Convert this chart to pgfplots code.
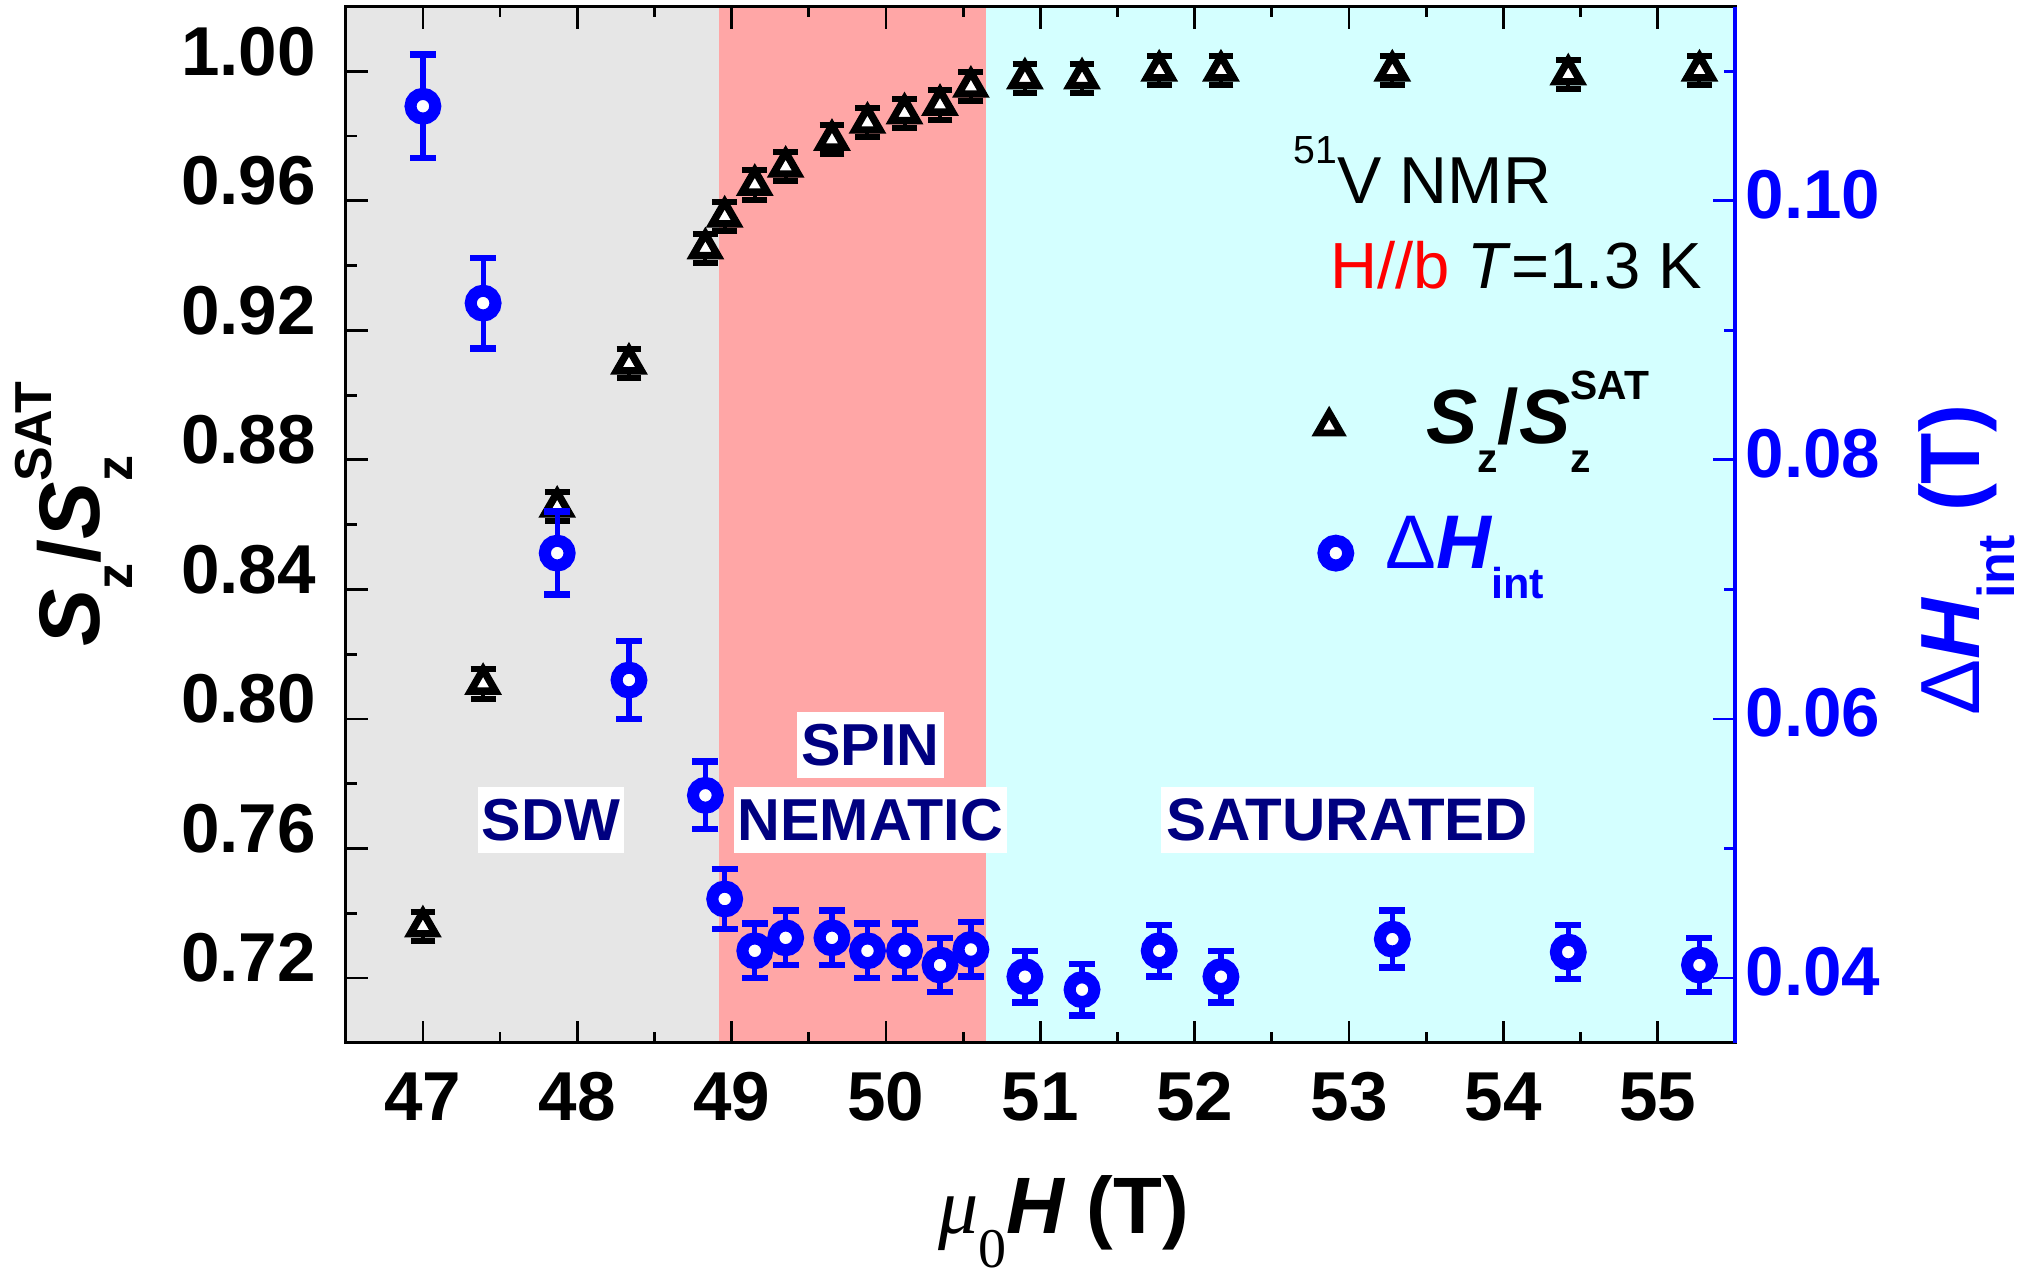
\documentclass[border=0pt]{standalone}
\usepackage{pgfplots}
\usepackage{pgfplotstable}
\pgfplotsset{compat=1.18}
\usepackage{fontspec}
\setmainfont{Liberation Sans}
\newfontfamily\seriffont{Liberation Serif}
\definecolor{bggray}{RGB}{230,230,230}
\definecolor{bgpink}{RGB}{255,166,166}
\definecolor{bgcyan}{RGB}{212,255,255}
\definecolor{navy}{RGB}{0,0,128}
\definecolor{pblue}{RGB}{0,0,255}
\newcommand{\fs}[1]{\fontsize{#1}{#1}\selectfont}

\pgfplotstableread{
x y e
47.00 0.7359 0.0045
47.39 0.8108 0.0045
47.87 0.8655 0.0045
48.335 0.9097 0.0045
48.83 0.9453 0.0045
48.955 0.9551 0.0045
49.15 0.9649 0.0045
49.35 0.9705 0.0045
49.65 0.9788 0.0045
49.88 0.9841 0.0045
50.12 0.9870 0.0045
50.35 0.9896 0.0045
50.55 0.9952 0.0045
50.90 0.9978 0.0045
51.27 0.9978 0.0045
51.77 1.0002 0.0045
52.17 1.0002 0.0045
53.28 1.0002 0.0045
54.42 0.9990 0.0045
55.27 1.0002 0.0045
}\tritab

\pgfplotstableread{
x y e
47.00 0.1073 0.0040
47.39 0.0921 0.0035
47.87 0.0728 0.0032
48.335 0.0630 0.0030
48.83 0.0541 0.0026
48.955 0.0461 0.0023
49.15 0.0421 0.0021
49.35 0.0431 0.0021
49.65 0.0431 0.0021
49.88 0.0421 0.0021
50.12 0.0421 0.0021
50.35 0.0410 0.0021
50.55 0.0422 0.0021
50.90 0.0401 0.0020
51.27 0.0391 0.0020
51.77 0.0421 0.0020
52.17 0.0401 0.0020
53.28 0.0430 0.0022
54.42 0.0420 0.0021
55.27 0.0410 0.0021
}\circtab

\begin{document}
\begin{tikzpicture}
\begin{axis}[
  at={(0,0)}, anchor=south west,
  scale only axis, width=347.3pt, height=259.05pt,
  xmin=46.5, xmax=55.5, ymin=0.70, ymax=1.02,
  axis on top,
  axis line style={line width=0.85pt, black},
  xtick={47,48,49,50,51,52,53,54,55},
  minor xtick={47.5,48.5,49.5,50.5,51.5,52.5,53.5,54.5},
  ytick={0.72,0.76,0.80,0.84,0.88,0.92,0.96,1.00},
  minor ytick={0.74,0.78,0.82,0.86,0.90,0.94,0.98},
  xtick pos=both, ytick pos=left,
  tick align=inside,
  major tick length=5.5pt, minor tick length=2.7pt,
  tick style={line width=0.7pt, black},
  /pgf/number format/assume math mode=true,
  tick label style={font=\fs{17.3pt}\bfseries},
  xticklabel style={inner sep=0pt, yshift=-7.25pt},
  yticklabel style={inner sep=0pt, xshift=-7.25pt, yshift=5pt, /pgf/number format/.cd, fixed, fixed zerofill, precision=2},
  xlabel={{\seriffont\itshape\fs{20pt}μ}\raisebox{-8.5pt}{\seriffont\fs{14pt}0}{\fs{20pt}\bfseries\itshape H}{\fs{20pt}\bfseries{} (T)}},
  xlabel style={at={(axis description cs:0.517,-0.1837)}, anchor=base, inner sep=0pt},
  ylabel={\fs{21.5pt}\bfseries\itshape S\raisebox{-8.25pt}{\fs{13pt}\upshape z}\upshape/\itshape S\makebox[0pt][l]{\raisebox{-8.25pt}{\fs{13pt}\upshape z}}\raisebox{12pt}{\fs{13pt}\upshape SAT}},
  ylabel style={at={(axis description cs:-0.1769,0.5102)}, anchor=base, inner sep=0pt},
  legend style={at={(axis cs:52.871,0.8904)}, anchor=west, xshift=-5pt, draw=none, fill=none, inner sep=0pt, outer sep=0pt, column sep=19.25pt, nodes={inner sep=0pt}},
  legend cell align=left,
  legend image code/.code={\begin{scope}[overlay]\draw[#1] plot coordinates {(0pt,0pt)};\end{scope}\pgfpathrectangle{\pgfpoint{-5pt}{-5pt}}{\pgfpoint{10pt}{10pt}}\pgfusepath{discard}},
]
\fill[bggray] (axis cs:46.5,0.70) rectangle (axis cs:48.92,1.02);
\fill[bgpink] (axis cs:48.92,0.70) rectangle (axis cs:50.646,1.02);
\fill[bgcyan] (axis cs:50.646,0.70) rectangle (axis cs:55.5,1.02);

\node[fill=white, text=navy, font=\fs{14.8pt}\bfseries, inner xsep=1pt, inner ysep=3pt] at (axis cs:47.829,0.76878) {SDW};
\node[fill=white, text=navy, font=\fs{14.8pt}\bfseries, inner xsep=1pt, inner ysep=3pt] at (axis cs:49.90,0.79188) {SPIN};
\node[fill=white, text=navy, font=\fs{14.8pt}\bfseries, inner xsep=1pt, inner ysep=3pt] at (axis cs:49.898,0.76878) {NEMATIC};
\node[fill=white, text=navy, font=\fs{15pt}\bfseries, inner xsep=1.5pt, inner ysep=2.9pt] at (axis cs:52.99,0.76878) {SATURATED};

\node[anchor=base west, inner sep=0pt, font=\fs{16.6pt}] at (axis cs:52.636,0.9592) {\raisebox{10pt}{\fs{9.8pt}51}V NMR};
\node[anchor=base west, inner sep=0pt, font=\fs{16.3pt}] at (axis cs:52.873,0.9330) {\textcolor{red}{H//b} \textit{T}=1.3 K};

\addplot[only marks, mark=none, forget plot,
  error bars/.cd, y dir=both, y explicit, error mark=-,
  error bar style={line width=1pt, draw=black},
  error mark options={rotate=90, line width=1.5pt, mark size=3.1pt, draw=black}]
  table[x=x, y=y, y error=e] {\tritab};
\addplot[only marks, mark=triangle*, mark size=3.6pt, forget plot,
  mark options={line width=1.85pt, draw=black, fill=white}]
  table[x=x, y=y] {\tritab};
\addlegendimage{only marks, mark=triangle*, mark size=3.4pt, mark options={line width=1.7pt, draw=black, fill=white}}
\addlegendentry{\smash{\raisebox{-5.2pt}{\fs{19.2pt}\bfseries\itshape S\raisebox{-7.25pt}{\fs{10.2pt}\upshape z}\upshape/\itshape S\makebox[0pt][l]{\raisebox{-7.25pt}{\fs{10.2pt}\upshape z}}\raisebox{11pt}{\fs{10.2pt}\upshape SAT}}}}
\end{axis}

\begin{axis}[
  at={(0,0)}, anchor=south west,
  scale only axis, width=347.3pt, height=259.05pt,
  xmin=46.5, xmax=55.5, ymin=0.035, ymax=0.115,
  axis x line=none, axis y line*=right,
  y axis line style={line width=0.85pt, pblue},
  xtick=\empty,
  ytick={0.04,0.06,0.08,0.10}, minor ytick={0.05,0.07,0.09,0.11},
  tick align=inside,
  major tick length=5.5pt, minor tick length=2.7pt,
  tick style={line width=0.7pt, pblue},
  /pgf/number format/assume math mode=true,
  yticklabel style={font=\fs{17.3pt}\bfseries, text=pblue, inner sep=0pt, xshift=2.5pt, yshift=1.5pt, /pgf/number format/.cd, fixed, fixed zerofill, precision=2},
  ylabel={\color{pblue}\fs{21pt}Δ{\bfseries\itshape H}\raisebox{-8.75pt}{\fs{13pt}\bfseries int}{\bfseries{} (T)}},
  ylabel style={at={(axis description cs:1.1763,0.4657)}, anchor=base, inner sep=0pt},
  legend style={at={(axis cs:52.914,0.0728)}, anchor=west, xshift=-5pt, draw=none, fill=none, inner sep=0pt, outer sep=0pt, column sep=7.5pt, nodes={inner sep=0pt}},
  legend cell align=left,
  legend image code/.code={\begin{scope}[overlay]\draw[#1] plot coordinates {(0pt,0pt)};\end{scope}\pgfpathrectangle{\pgfpoint{-5pt}{-5pt}}{\pgfpoint{10pt}{10pt}}\pgfusepath{discard}},
]
\addplot[only marks, mark=none, forget plot,
  error bars/.cd, y dir=both, y explicit, error mark=-,
  error bar style={line width=1.3pt, draw=pblue},
  error mark options={rotate=90, line width=1.6pt, mark size=3.25pt, draw=pblue}]
  table[x=x, y=y, y error=e] {\circtab};
\addplot[only marks, mark=*, mark size=3.1pt, forget plot,
  mark options={line width=3pt, draw=pblue, fill=white}]
  table[x=x, y=y] {\circtab};
\addlegendimage{only marks, mark=*, mark size=3.1pt, mark options={line width=3pt, draw=pblue, fill=white}}
\addlegendentry{\smash{\raisebox{-4.7pt}{\color{pblue}\fs{19pt}Δ{\bfseries\itshape H}\raisebox{-7.3pt}{\fs{10.8pt}\bfseries int}}}}
\end{axis}
\pgfresetboundingbox
\path[use as bounding box] (-86.43pt,-59.83pt) rectangle (421.3pt,260.68pt);
\end{tikzpicture}
\end{document}
